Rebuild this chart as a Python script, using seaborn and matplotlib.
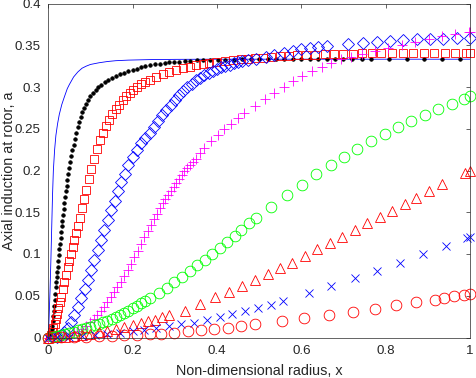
import matplotlib
matplotlib.use("Agg")
import matplotlib.pyplot as plt
import seaborn as sns

sns.set_style("white")
plt.rcParams['font.family'] = ['Liberation Sans', 'DejaVu Sans']

# ---- data (x = r/R, y = axial induction a)
line_x = [0.0, 0.002, 0.004, 0.006, 0.008, 0.010, 0.012, 0.015, 0.018, 0.022, 0.026,
          0.032, 0.038, 0.045, 0.05, 0.06, 0.07, 0.08, 0.09, 0.1, 0.12, 0.14, 0.16,
          0.19, 0.24, 0.3, 0.4, 0.6, 0.8, 1.0]
line_y = [0.0, 0.025, 0.055, 0.09, 0.13, 0.17, 0.2, 0.225, 0.242, 0.256, 0.267,
          0.279, 0.288, 0.298, 0.303, 0.312, 0.318, 0.3225, 0.325, 0.327, 0.329, 0.3305, 0.3315,
          0.3322, 0.3328, 0.3331, 0.3333, 0.3333, 0.3333, 0.3333]

dot_x = [0.0, 0.0024, 0.0045, 0.0064, 0.008, 0.0095, 0.011, 0.012, 0.013, 0.0143, 0.0155,
         0.0168, 0.018, 0.019, 0.02, 0.021, 0.022, 0.0235, 0.025, 0.026, 0.0275, 0.029,
         0.0305, 0.032, 0.0335, 0.035, 0.0365, 0.038, 0.0397, 0.0415, 0.0435, 0.0455,
         0.0475, 0.0497, 0.052, 0.0545, 0.057, 0.0598, 0.0628, 0.066, 0.0695, 0.073,
         0.077, 0.081, 0.0855, 0.09, 0.095, 0.1, 0.106, 0.112, 0.119, 0.126, 0.134,
         0.142, 0.151, 0.16, 0.17, 0.18, 0.19, 0.2, 0.21, 0.22, 0.23, 0.24, 0.252,
         0.264, 0.276, 0.287, 0.299, 0.311, 0.323, 0.337, 0.352, 0.367, 0.384, 0.402,
         0.42, 0.44, 0.46, 0.48, 0.5, 0.52, 0.54, 0.56, 0.58, 0.6, 0.62, 0.64, 0.66,
         0.68, 0.7, 0.72, 0.745, 0.765, 0.808, 0.85, 0.891, 0.934, 0.976]
dot_y = [0.0, 0.001, 0.003, 0.006, 0.01, 0.014, 0.02, 0.026, 0.032, 0.038, 0.045,
         0.052, 0.06, 0.066, 0.072, 0.079, 0.085, 0.092, 0.099, 0.106, 0.112, 0.119,
         0.126, 0.133, 0.14, 0.147, 0.154, 0.161, 0.168, 0.175, 0.182, 0.189,
         0.196, 0.203, 0.21, 0.217, 0.224, 0.231, 0.238, 0.245, 0.252, 0.258,
         0.264, 0.27, 0.275, 0.28, 0.285, 0.289, 0.2925, 0.296, 0.2995, 0.3025, 0.3055,
         0.308, 0.3105, 0.3128, 0.315, 0.317, 0.3188, 0.3205, 0.322, 0.3235, 0.3248, 0.326, 0.327,
         0.328, 0.3288, 0.3295, 0.33, 0.3305, 0.331, 0.3314, 0.3318, 0.3321, 0.3324, 0.3326,
         0.3328, 0.3329, 0.333, 0.3331, 0.3332, 0.3333, 0.3333, 0.3333, 0.3333, 0.3333, 0.3333, 0.3333, 0.3333,
         0.3333, 0.3333, 0.3333, 0.3333, 0.3333, 0.3333, 0.3333, 0.3333, 0.3333, 0.3333]

sq_x = [0.003, 0.006, 0.009, 0.012, 0.015, 0.018, 0.021, 0.024, 0.027, 0.030, 0.034, 0.038,
        0.042, 0.046, 0.050, 0.054, 0.058, 0.062, 0.066, 0.070, 0.075, 0.080, 0.085, 0.090,
        0.096, 0.102, 0.108, 0.115, 0.122, 0.129, 0.136, 0.144, 0.152, 0.160, 0.168, 0.176,
        0.184, 0.193, 0.202, 0.211, 0.220, 0.230, 0.240, 0.256, 0.271, 0.287, 0.303, 0.319,
        0.335, 0.351, 0.366, 0.382, 0.398, 0.418, 0.438, 0.458, 0.473, 0.489, 0.509, 0.529,
        0.549, 0.57, 0.59, 0.61, 0.632, 0.655, 0.678, 0.7, 0.723, 0.745, 0.768, 0.79, 0.815,
        0.84, 0.865, 0.89, 0.915, 0.94, 0.965, 0.99, 1.0]
sq_y = [0.001, 0.003, 0.007, 0.011, 0.016, 0.022, 0.028, 0.035, 0.042, 0.049, 0.058, 0.066,
        0.075, 0.084, 0.092, 0.1, 0.108, 0.117, 0.125, 0.133, 0.143, 0.155, 0.166, 0.177,
        0.19, 0.202, 0.214, 0.226, 0.236, 0.245, 0.253, 0.261, 0.268, 0.274, 0.279, 0.284,
        0.289, 0.293, 0.297, 0.3, 0.303, 0.306, 0.3085, 0.312, 0.315, 0.318, 0.3205, 0.3225,
        0.3243, 0.3258, 0.327, 0.3283, 0.3295, 0.331, 0.332, 0.333, 0.3337, 0.3345, 0.3353, 0.336,
        0.3367, 0.3373, 0.3379, 0.3384, 0.3388, 0.3392, 0.3395, 0.3398, 0.34, 0.3402, 0.3404, 0.3405, 0.3406,
        0.3407, 0.3408, 0.3409, 0.341, 0.341, 0.3411, 0.3411, 0.3411]

dia_x = [0.02, 0.03, 0.038, 0.046, 0.054, 0.062, 0.07, 0.078, 0.086, 0.093, 0.101, 0.109,
         0.117, 0.125, 0.133, 0.141, 0.149, 0.157, 0.165, 0.173, 0.181, 0.19, 0.2, 0.21,
         0.22, 0.23, 0.24, 0.25, 0.26, 0.27, 0.28, 0.29, 0.3, 0.31, 0.32, 0.33, 0.34, 0.35,
         0.36, 0.37, 0.38, 0.39, 0.4, 0.41, 0.42, 0.43, 0.44, 0.45, 0.46, 0.473, 0.493,
         0.517, 0.536, 0.56, 0.58, 0.6, 0.62, 0.64, 0.66, 0.711, 0.747, 0.779, 0.81,
         0.842, 0.874, 0.905, 0.937, 0.969, 1.0]
dia_y = [0.001, 0.003, 0.006, 0.011, 0.018, 0.027, 0.037, 0.047, 0.058, 0.069, 0.081, 0.093,
         0.105, 0.117, 0.129, 0.141, 0.153, 0.164, 0.175, 0.186, 0.196, 0.206, 0.216, 0.225,
         0.233, 0.239, 0.245, 0.252, 0.259, 0.266, 0.273, 0.279, 0.285, 0.2905, 0.2955, 0.3, 0.304, 0.3078,
         0.3112, 0.3143, 0.3168, 0.3192, 0.3214, 0.3234, 0.3252, 0.3268, 0.3283, 0.3296, 0.3308, 0.3322, 0.334,
         0.3363, 0.3383, 0.341, 0.343, 0.345, 0.3468, 0.3482, 0.3494, 0.3515, 0.353, 0.3539, 0.3554,
         0.3563, 0.3571, 0.3575, 0.3578, 0.3583, 0.3587]

plus_x = [0.0, 0.012, 0.024, 0.036, 0.048, 0.06, 0.07, 0.08, 0.09, 0.1, 0.108, 0.116, 0.124,
          0.132, 0.14, 0.148, 0.156, 0.164, 0.172, 0.18, 0.188, 0.196, 0.204, 0.212, 0.22,
          0.228, 0.236, 0.243, 0.25, 0.257, 0.264, 0.271, 0.277, 0.283, 0.29, 0.297, 0.304,
          0.31, 0.316, 0.322, 0.329, 0.336, 0.343, 0.35, 0.36, 0.37, 0.386, 0.402, 0.417,
          0.433, 0.45, 0.465, 0.489, 0.513, 0.536, 0.558, 0.58, 0.602, 0.626, 0.648, 0.67,
          0.694, 0.717, 0.745, 0.775, 0.805, 0.838, 0.87, 0.902, 0.933, 0.965, 0.997, 1.0]
plus_y = [0.0, 0.0003, 0.0008, 0.0016, 0.003, 0.005, 0.0075, 0.0105, 0.014, 0.0185, 0.0225,
          0.027, 0.032, 0.037, 0.0425, 0.048, 0.054, 0.0605, 0.067, 0.074, 0.081, 0.0885,
          0.096, 0.104, 0.112, 0.12, 0.128, 0.135, 0.1415, 0.148, 0.1545, 0.1605, 0.1655,
          0.1705, 0.1755, 0.1805, 0.1855, 0.19, 0.1945, 0.199, 0.2035, 0.207, 0.2105, 0.214,
          0.2205, 0.2265, 0.2355, 0.2425, 0.2495, 0.2560, 0.263, 0.2685, 0.2772, 0.2853, 0.2932,
          0.3004, 0.3075, 0.313, 0.319, 0.3243, 0.3287, 0.3333, 0.3363, 0.3398, 0.3435, 0.347,
          0.3508, 0.3543, 0.358, 0.361, 0.3638, 0.366, 0.366]

grn_x = [0.0, 0.01, 0.02, 0.03, 0.04, 0.05, 0.06, 0.07, 0.08, 0.09, 0.1, 0.11, 0.12, 0.13,
         0.14, 0.15, 0.16, 0.17, 0.18, 0.19, 0.2, 0.21, 0.22, 0.23, 0.24, 0.262, 0.281, 0.299,
         0.318, 0.335, 0.353, 0.371, 0.388, 0.406, 0.423, 0.442, 0.458, 0.476, 0.493, 0.529,
         0.565, 0.602, 0.634, 0.67, 0.701, 0.733, 0.765, 0.798, 0.829, 0.861, 0.893, 0.925,
         0.957, 0.986, 1.0]
grn_y = [0.0, 0.0008, 0.0018, 0.003, 0.0042, 0.0055, 0.007, 0.0085, 0.01, 0.0115, 0.013,
         0.0145, 0.016, 0.018, 0.02, 0.022, 0.0243, 0.0268, 0.0295, 0.0323, 0.0352, 0.0382,
         0.0412, 0.0442, 0.047, 0.0529, 0.0596, 0.0661, 0.0728, 0.08, 0.0868, 0.0928, 0.1,
         0.1075, 0.1147, 0.1219, 0.1287, 0.1368, 0.1428, 0.1566, 0.1707, 0.183, 0.1954,
         0.2066, 0.2165, 0.226, 0.2353, 0.2434, 0.2517, 0.2596, 0.2661, 0.2733, 0.2796,
         0.2856, 0.2889]

tri_x = [0.0, 0.02, 0.04, 0.06, 0.08, 0.1, 0.12, 0.14, 0.16, 0.18, 0.2, 0.22, 0.237, 0.252,
         0.27, 0.287, 0.323, 0.359, 0.396, 0.428, 0.46, 0.49, 0.52, 0.549, 0.579, 0.608,
         0.637, 0.667, 0.697, 0.727, 0.756, 0.786, 0.815, 0.845, 0.873, 0.903, 0.933,
         0.988, 1.0]
tri_y = [0.0, 0.0003, 0.001, 0.002, 0.003, 0.0045, 0.006, 0.008, 0.0102, 0.0125, 0.015,
         0.0175, 0.0195, 0.021, 0.0242, 0.0269, 0.0321, 0.0398, 0.0481, 0.0541, 0.0617,
         0.0689, 0.0757, 0.0829, 0.0896, 0.0976, 0.1056, 0.1128, 0.1207, 0.1287, 0.1368,
         0.1447, 0.1519, 0.1599, 0.1674, 0.1754, 0.1835, 0.1974, 0.1998]

xm_x = [0.0, 0.02, 0.05, 0.08, 0.11, 0.14, 0.17, 0.2, 0.228, 0.256, 0.286, 0.315, 0.345,
        0.376, 0.406, 0.436, 0.466, 0.497, 0.527, 0.557, 0.618, 0.671, 0.727, 0.78, 0.834,
        0.889, 0.943, 0.992, 1.0]
xm_y = [0.0, 0.0003, 0.001, 0.0018, 0.0028, 0.004, 0.0055, 0.0072, 0.009, 0.011, 0.0141,
        0.0158, 0.0177, 0.021, 0.0242, 0.0278, 0.0313, 0.0353, 0.0391, 0.0435, 0.0527,
        0.0617, 0.0709, 0.08, 0.0896, 0.0996, 0.1096, 0.1188, 0.1204]

rc_x = [0.0, 0.03, 0.06, 0.09, 0.12, 0.15, 0.18, 0.21, 0.24, 0.268, 0.299, 0.331, 0.363,
        0.394, 0.426, 0.458, 0.489, 0.553, 0.607, 0.666, 0.723, 0.774, 0.825, 0.871, 0.917,
        0.939, 0.962, 0.986, 1.0]
rc_y = [0.0, 0.0002, 0.0005, 0.0009, 0.0014, 0.002, 0.0026, 0.0033, 0.004, 0.0047, 0.0058,
        0.0072, 0.0086, 0.0102, 0.0118, 0.0137, 0.0157, 0.0192, 0.0228, 0.0269, 0.0305,
        0.0345, 0.0389, 0.0422, 0.0453, 0.0477, 0.0497, 0.0513, 0.0525]

x_ticks = [0, 0.2, 0.4, 0.6, 0.8, 1]
x_tick_labels = ['0', '0.2', '0.4', '0.6', '0.8', '1']
y_ticks = [0, 0.05, 0.1, 0.15, 0.2, 0.25, 0.3, 0.35, 0.4]
y_tick_labels = ['0', '0.05', '0.1', '0.15', '0.2', '0.25', '0.3', '0.35', '0.4']

fig = plt.figure(figsize=(4.77, 3.78), dpi=100)
ax = fig.add_axes([48.3 / 477, 40.5 / 378, 421.7 / 477, 334 / 378])

# continuous curve
sns.lineplot(x=line_x, y=line_y, ax=ax, color='b', linewidth=0.6,
             sort=False, estimator=None)

# marker series: (x, y, marker, colour, size, filled)
series = [
    (dot_x, dot_y, '.', 'k', 5, True),
    (sq_x, sq_y, 's', '#ff0000', 6.4, False),
    (dia_x, dia_y, 'D', '#0000ff', 5.8, False),
    (plus_x, plus_y, '+', '#ff00ff', 7.5, False),
    (grn_x, grn_y, 'o', '#00ff00', 7.7, False),
    (tri_x, tri_y, '^', '#ff0000', 7.9, False),
    (xm_x, xm_y, 'x', '#0000ff', 5.5, False),
    (rc_x, rc_y, 'o', '#ff0000', 7.7, False),
]
for sx, sy, mk, col, ms, filled in series:
    sns.lineplot(x=sx, y=sy, ax=ax, sort=False, estimator=None, linestyle='',
                 marker=mk, markersize=ms, markeredgewidth=0.6,
                 markeredgecolor=col, markerfacecolor=col if filled else 'none',
                 color=col, clip_on=False)

ax.set_xlim(0, 1)
ax.set_ylim(0, 0.4)
ax.set_xticks(x_ticks)
ax.set_xticklabels(x_tick_labels)
ax.set_yticks(y_ticks)
ax.set_yticklabels(y_tick_labels)
ax.tick_params(direction='in', top=True, right=True, length=3, width=0.5,
               labelsize=9.6, colors='0.15', pad=5.5)
for sp in ax.spines.values():
    sp.set_color('0.15')
    sp.set_linewidth(0.5)
ax.set_xlabel('Non-dimensional radius, x', fontsize=10.4, color='0.15')
ax.set_ylabel('Axial induction at rotor, a', fontsize=10.4, color='0.15')
ax.xaxis.set_label_coords(0.5, -0.078)
ax.yaxis.set_label_coords(-0.0766, 0.5)

fig.savefig('out.png', dpi=100)
